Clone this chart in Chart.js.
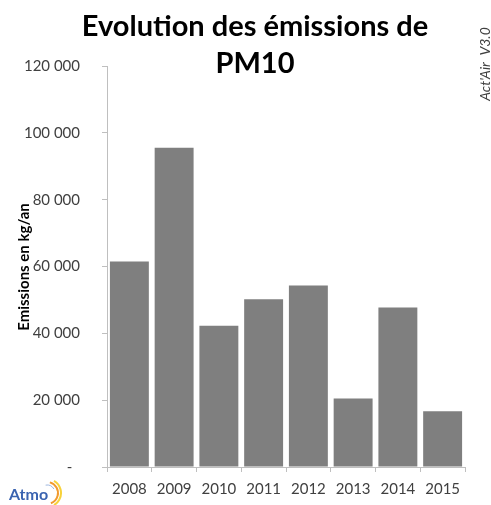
<!DOCTYPE html>
<html>
<head>
<meta charset="utf-8">
<script src="https://cdn.jsdelivr.net/npm/chart.js@4/dist/chart.umd.min.js"></script>
<style>
  html, body { margin: 0; padding: 0; background: #ffffff; }
  #wrap { width: 491px; height: 505px; }
</style>
</head>
<body>
<div id="wrap"><canvas id="chart" width="491" height="505"></canvas></div>
<script>
// Annual PM10 emissions (kg/an)
const years = ['2008', '2009', '2010', '2011', '2012', '2013', '2014', '2015'];
const emissions = [61500, 95500, 42300, 50200, 54300, 20500, 47700, 16700];
const yTicks = [0, 20000, 40000, 60000, 80000, 100000, 120000];

const titleLines = ['Evolution des émissions de', 'PM10'];
const yTitle = 'Emissions en kg/an';
const versionText = "Act'Air  V3.0";

const FONT = 'Lato, "Open Sans", sans-serif';

// accounting-style numbers: space thousands separator, dash for zero
function formatTick(v) {
  if (v === 0) return '-  ';
  return String(v).replace(/\B(?=(\d{3})+(?!\d))/g, ' ');
}

// Title, rotated axis caption, version tag and logo
const decorations = {
  id: 'decorations',
  afterDraw(chart) {
    const ctx = chart.ctx;
    ctx.save();
    ctx.fillStyle = '#000000';
    ctx.textAlign = 'center';
    ctx.textBaseline = 'alphabetic';
    ctx.font = 'bold 29px ' + FONT;
    ctx.fillText(titleLines[0], 255, 36);
    ctx.fillText(titleLines[1], 255, 73);

    ctx.save();
    ctx.translate(24, 267);
    ctx.rotate(-Math.PI / 2);
    ctx.font = 'bold 15px ' + FONT;
    ctx.textAlign = 'center';
    ctx.textBaseline = 'middle';
    ctx.fillStyle = '#000000';
    ctx.fillText(yTitle, 0, 0);
    ctx.restore();

    ctx.save();
    ctx.translate(485, 64);
    ctx.rotate(-Math.PI / 2);
    ctx.font = 'italic 14px ' + FONT;
    ctx.textAlign = 'center';
    ctx.textBaseline = 'middle';
    ctx.fillStyle = '#404040';
    ctx.fillText(versionText, 0, 0);
    ctx.restore();

    // logo
    ctx.textAlign = 'left';
    ctx.textBaseline = 'alphabetic';
    ctx.font = 'bold 16px ' + FONT;
    ctx.fillStyle = '#3a63b0';
    ctx.fillText('Atmo', 9, 500);
    ctx.lineWidth = 2;
    ctx.strokeStyle = '#f29a2e';
    ctx.beginPath();
    ctx.arc(47, 493, 11, -Math.PI / 2.4, Math.PI / 2.6);
    ctx.stroke();
    ctx.strokeStyle = '#f7d23a';
    ctx.beginPath();
    ctx.arc(47, 493, 14, -Math.PI / 3, Math.PI / 3);
    ctx.stroke();
    ctx.strokeStyle = '#9fb7de';
    ctx.lineWidth = 1;
    ctx.beginPath();
    ctx.arc(47, 493, 8, -Math.PI / 1.8, -Math.PI / 6);
    ctx.stroke();
    ctx.restore();
  }
};

new Chart(document.getElementById('chart'), {
  type: 'bar',
  data: {
    labels: years,
    datasets: [{
      data: emissions,
      backgroundColor: '#7f7f7f',
      borderWidth: 0,
      categoryPercentage: 1.0,
      barPercentage: 0.87
    }]
  },
  options: {
    responsive: false,
    animation: false,
    events: [],
    layout: { padding: { top: 66, right: 26, bottom: 0, left: 0 } },
    plugins: {
      legend: { display: false },
      tooltip: { enabled: false },
      title: { display: false }
    },
    scales: {
      x: {
        grid: {
          display: true,
          drawOnChartArea: false,
          drawTicks: true,
          tickLength: 5,
          color: '#bfbfbf',
          offset: true
        },
        border: { display: true, color: '#bfbfbf', width: 1 },
        ticks: {
          color: '#404040',
          font: { family: FONT, size: 15 },
          padding: 8,
          maxRotation: 0
        },
        afterFit(scale) { scale.height = 38; }
      },
      y: {
        min: 0,
        max: 120000,
        afterBuildTicks(scale) { scale.ticks = yTicks.map(v => ({ value: v })); },
        grid: {
          display: true,
          drawOnChartArea: false,
          drawTicks: true,
          tickLength: 5,
          color: '#bfbfbf'
        },
        border: { display: true, color: '#bfbfbf', width: 1 },
        ticks: {
          color: '#404040',
          font: { family: FONT, size: 15 },
          padding: 22,
          callback: (v) => formatTick(v)
        },
        afterFit(scale) { scale.width = 107; }
      }
    }
  },
  plugins: [decorations]
});
</script>
</body>
</html>
